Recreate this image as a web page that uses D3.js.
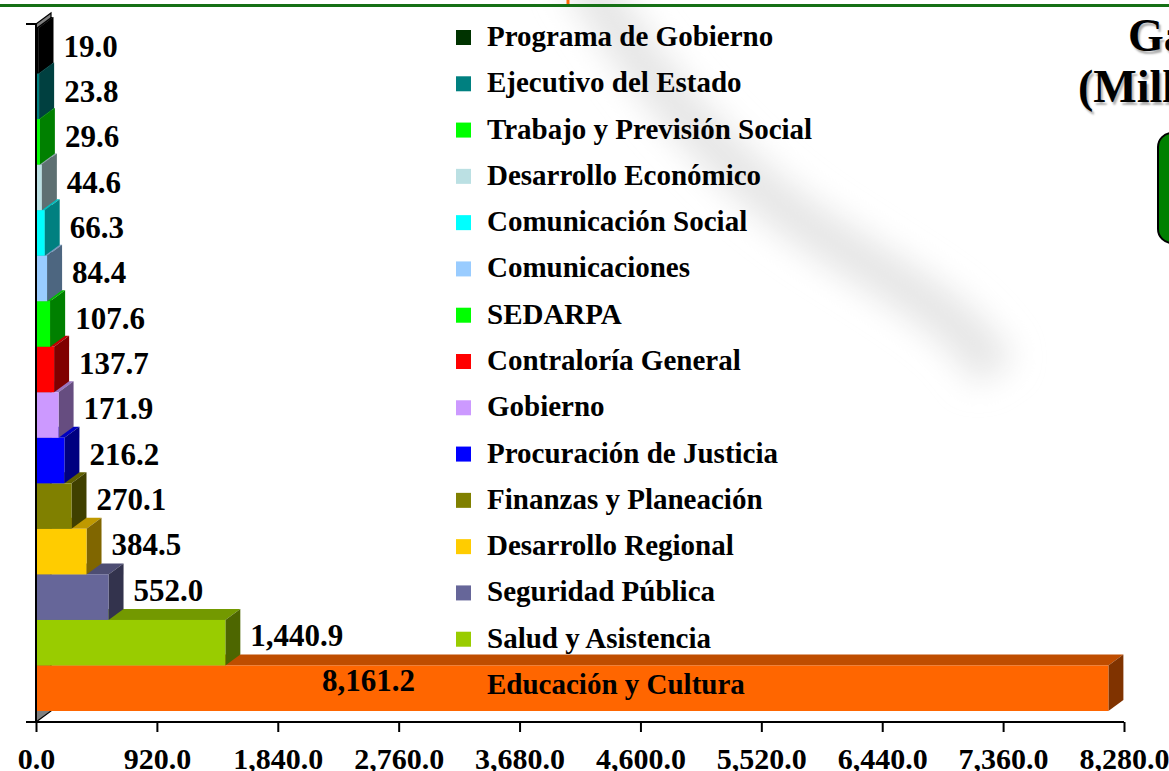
<!DOCTYPE html>
<html>
<head>
<meta charset="utf-8">
<script src="https://cdn.jsdelivr.net/npm/d3@7"></script>
<style>
  html, body { margin: 0; padding: 0; background: #fff; overflow: hidden; }
  svg { display: block; font-family: "Liberation Serif", "Times New Roman", serif; font-weight: bold; }
</style>
</head>
<body>
<svg id="chart" width="1169" height="771"></svg>
<script>
// categories, top to bottom
const categories = ["Programa de Gobierno", "Ejecutivo del Estado", "Trabajo y Previsión Social",
  "Desarrollo Económico", "Comunicación Social", "Comunicaciones", "SEDARPA", "Contraloría General",
  "Gobierno", "Procuración de Justicia", "Finanzas y Planeación", "Desarrollo Regional",
  "Seguridad Pública", "Salud y Asistencia", "Educación y Cultura"];
const values = [19.0, 23.8, 29.6, 44.6, 66.3, 84.4, 107.6, 137.7, 171.9, 216.2, 270.1, 384.5, 552.0, 1440.9, 8161.2];
const colors = ["#003300", "#008080", "#00ff00", "#bbe0e3", "#00ffff", "#99ccff", "#00ff00", "#ff0000",
  "#cc99ff", "#0000ff", "#808000", "#ffcc00", "#666699", "#99cc00", "#ff6600"];
const tickValues = [0, 920, 1840, 2760, 3680, 4600, 5520, 6440, 7360, 8280];
const titleLines = ["Gasto", "(Millones de pesos)"];

const svg = d3.select("#chart");
const depthX = 15, depthY = 11;

const x = d3.scaleLinear().domain([0, 8280]).range([36, 1124]);
const y = d3.scaleBand().domain(categories).range([28, 711]).padding(0);

// background decoration: blurred curl shadow
const defs = svg.append("defs");
defs.append("filter").attr("id", "blur").attr("x", "-50%").attr("y", "-50%").attr("width", "200%").attr("height", "200%")
  .append("feGaussianBlur").attr("stdDeviation", 16);
defs.append("filter").attr("id", "blurSmall")
  .append("feGaussianBlur").attr("stdDeviation", 1.2);

svg.append("path")
  .attr("d", "M580,-30 C640,70 720,170 830,240 S960,320 995,372")
  .attr("fill", "none").attr("stroke", "#e6e6e6").attr("stroke-width", 46)
  .attr("filter", "url(#blur)");
svg.append("line")
  .attr("x1", 1000).attr("x2", 1180).attr("y1", 372).attr("y2", 372)
  .attr("stroke", "#c8c8c8").attr("stroke-width", 3).attr("filter", "url(#blurSmall)");

// top rule
svg.append("line").attr("x1", 0).attr("x2", 1169).attr("y1", 5.5).attr("y2", 5.5)
  .attr("stroke", "#157015").attr("stroke-width", 3);
svg.append("line").attr("x1", 568).attr("x2", 568).attr("y1", 0).attr("y2", 4)
  .attr("stroke", "#ff6600").attr("stroke-width", 3);

// title (runs off the right edge)
svg.append("g").selectAll("text")
  .data(titleLines)
  .join("text")
  .attr("x", (d, i) => i === 0 ? 1128 : 1078)
  .attr("y", (d, i) => 51 + i * 51)
  .attr("font-size", 46)
  .attr("fill", "#000")
  .style("text-shadow", "2px 3px 2px #b0b0b0")
  .text(d => d);

// green box
svg.append("rect")
  .attr("x", 1158).attr("y", 133).attr("width", 60).attr("height", 110)
  .attr("rx", 14).attr("fill", "#008000").attr("stroke", "#000").attr("stroke-width", 2);

// left wall
svg.append("path")
  .attr("d", `M36,24 L${36 + depthX},${24 - depthY} L${36 + depthX},${722 - depthY} L36,722 Z`)
  .attr("fill", "#808080").attr("stroke", "#000").attr("stroke-width", 1.2);

// bars (bottom first so upper bars cover top faces)
function shade(c, k) {
  const col = d3.rgb(c);
  return d3.rgb(col.r * k, col.g * k, col.b * k).formatHex();
}

const bars = svg.append("g").selectAll("g")
  .data(d3.range(categories.length).reverse())
  .join("g");

bars.append("path") // top face
  .attr("d", i => {
    const t = y(categories[i]), x0 = x(0), x1 = x(values[i]);
    return `M${x0},${t} L${x0 + depthX},${t - depthY} L${x1 + depthX},${t - depthY} L${x1},${t} Z`;
  })
  .attr("fill", i => i === 0 ? "#000" : shade(colors[i], 0.75));

bars.append("path") // side face
  .attr("d", i => {
    const t = y(categories[i]), b = t + y.bandwidth(), x1 = x(values[i]);
    return `M${x1},${t} L${x1 + depthX},${t - depthY} L${x1 + depthX},${b - depthY} L${x1},${b} Z`;
  })
  .attr("fill", i => i === 0 ? "#000" : shade(colors[i], 0.5));

bars.append("rect") // front face
  .attr("x", x(0))
  .attr("y", i => y(categories[i]))
  .attr("width", i => x(values[i]) - x(0))
  .attr("height", y.bandwidth())
  .attr("fill", i => i === 0 ? "#000" : colors[i]);

// vertical axis line + top tick
svg.append("line").attr("x1", 36).attr("x2", 36).attr("y1", 24).attr("y2", 722)
  .attr("stroke", "#000").attr("stroke-width", 2);
svg.append("line").attr("x1", 26).attr("x2", 36).attr("y1", 24).attr("y2", 24)
  .attr("stroke", "#000").attr("stroke-width", 2);

// x axis
const xAxis = svg.append("g")
  .attr("transform", "translate(0,722)")
  .call(d3.axisBottom(x).tickValues(tickValues).tickFormat(d3.format(",.1f")).tickSize(10).tickSizeOuter(0).tickPadding(16));
xAxis.select(".domain").attr("stroke-width", 2).attr("d", "M26,0H1124");
xAxis.selectAll(".tick line").attr("stroke-width", 2);
xAxis.selectAll("text")
  .attr("font-family", "Liberation Serif, Times New Roman, serif")
  .attr("font-weight", "bold")
  .attr("font-size", 30)
  .attr("fill", "#000");

// value labels
svg.append("g").selectAll("text")
  .data(d3.range(categories.length))
  .join("text")
  .attr("x", i => values[i] > 4000 ? x(values[i] * 0.31) : x(values[i]) + depthX + 10)
  .attr("y", i => y(categories[i]) + y.bandwidth() / 2 + 6 - i * 0.2)
  .attr("text-anchor", i => values[i] > 4000 ? "middle" : "start")
  .attr("font-size", 31)
  .attr("fill", "#000")
  .text(i => d3.format(",.1f")(values[i]));

// legend
const ly = d3.scalePoint().domain(categories).range([37, 685]);
const legend = svg.append("g").selectAll("g")
  .data(categories)
  .join("g")
  .attr("transform", d => `translate(456,${ly(d)})`);
legend.append("rect")
  .attr("x", 0).attr("y", -7).attr("width", 15).attr("height", 15)
  .attr("fill", (d, i) => colors[i]);
legend.append("text")
  .attr("x", 31).attr("y", 9)
  .attr("font-size", 29)
  .attr("fill", "#000")
  .text(d => d);
</script>
</body>
</html>
